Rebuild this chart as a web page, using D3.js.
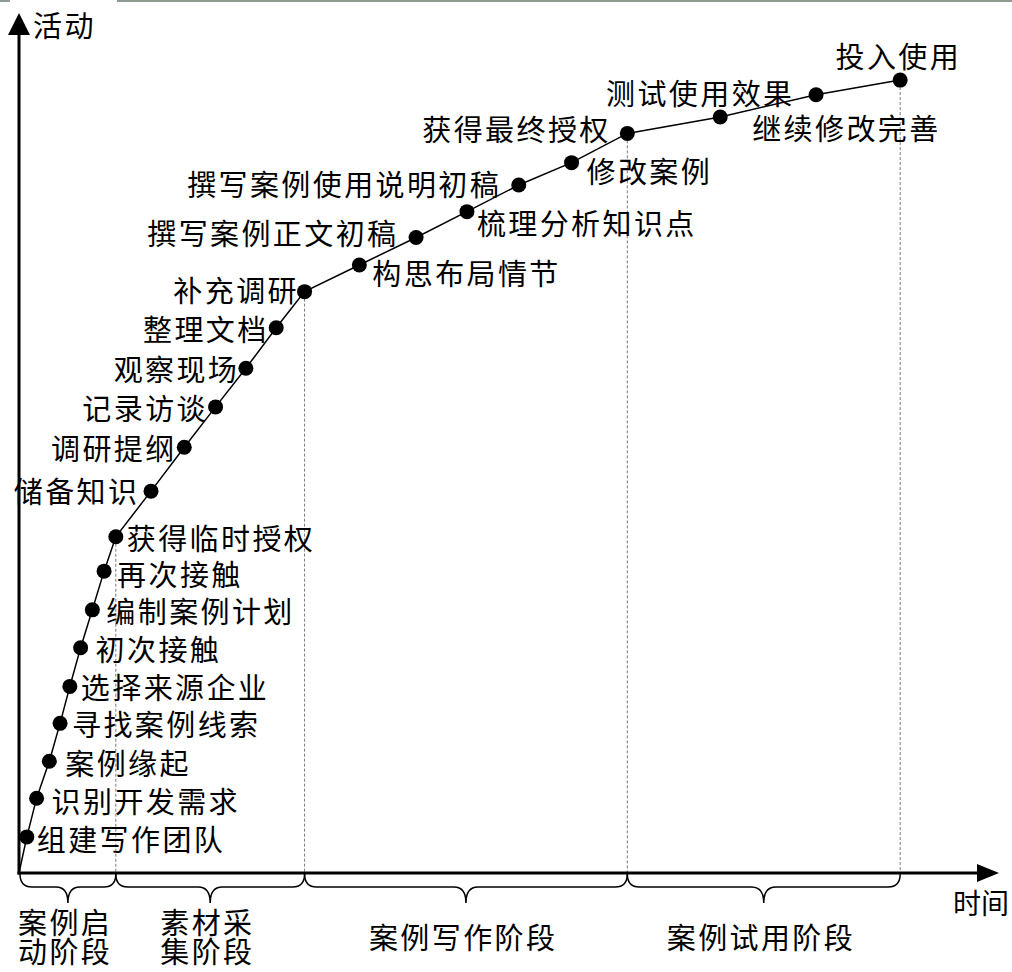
<!DOCTYPE html>
<html lang="zh">
<head>
	<meta charset="UTF-8" />
	<title>案例开发过程</title>
	<script type="text/javascript" src="https://cdn.jsdelivr.net/npm/d3@7/dist/d3.min.js"></script>
	<style>
		body { margin: 0; background: #fff; }
		text { font-family: "Noto Sans CJK SC", sans-serif; fill: #000; }
	</style>
</head>
<body>
	<svg id="vis" width="1012" height="972"></svg>
	<script type="text/javascript">
		// Activités (ordre chronologique)
		var activites = ["组建写作团队", "识别开发需求", "案例缘起", "寻找案例线索", "选择来源企业",
			"初次接触", "编制案例计划", "再次接触", "获得临时授权", "储备知识", "调研提纲",
			"记录访谈", "观察现场", "整理文档", "补充调研", "构思布局情节", "撰写案例正文初稿",
			"梳理分析知识点", "撰写案例使用说明初稿", "修改案例", "获得最终授权", "继续修改完善",
			"测试使用效果", "投入使用"];

		// Temps (0-100) et avancement (0-100)
		var temps = [0.8, 1.8, 3.1, 4.2, 5.2, 6.3, 7.5, 8.7, 9.9, 13.5, 16.9, 20.1, 23.2, 26.3,
			29.2, 34.8, 40.6, 45.8, 51.1, 56.5, 62.2, 71.7, 81.5, 90.1];
		var avancement = [4.2, 8.7, 13.0, 17.4, 21.7, 26.2, 30.6, 35.1, 39.1, 44.4, 49.5, 54.2,
			58.7, 63.4, 67.6, 70.7, 73.9, 76.9, 80.0, 82.6, 86.0, 87.9, 90.5, 92.2];

		// Phases : nom et index de la dernière activité
		var phases = [["案例启", "动阶段"], ["素材采", "集阶段"], ["案例写作阶段"], ["案例试用阶段"]];
		var finPhase = [8, 14, 20, 23];

		// Placement des étiquettes : [ancrage, dx, dy]
		var placement = [
			["start", 10, 1], ["start", 15, 2], ["start", 16, 1], ["start", 12, 0], ["start", 11, 0],
			["start", 15, 0], ["start", 14, 0], ["start", 13, 2], ["start", 11, 0],
			["end", -14, -1], ["end", -10, 0], ["end", -10, 0], ["end", -9, 0], ["end", -10, 0],
			["end", -8, -3], ["start", 13, 7], ["end", -20, -5], ["start", 10, 10], ["end", -20, -2],
			["start", 15, 7], ["end", -19, -5], ["start", 32, 10], ["end", -24, -3], ["middle", -3, -25]
		];

		var fs = 29, ls = 2.4;

		var svg = d3.select("#vis");

		// Liseré en haut
		svg.append("rect").attr("x", 0).attr("y", 0).attr("width", 1012).attr("height", 2).attr("fill", "#8f9b8f");
		svg.append("rect").attr("x", 10).attr("y", 0).attr("width", 107).attr("height", 2).attr("fill", "#fff");

		// Echelles
		var scaleX = d3.scaleLinear().domain([0, 100]).range([19, 997]);
		var scaleY = d3.scaleLinear().domain([0, 100]).range([873, 13]);

		var points = temps.map(function(t, i) {
			return { nom: activites[i], x: scaleX(t), y: scaleY(avancement[i]), p: placement[i] };
		});

		// Lignes pointillées des fins de phase
		svg.append("g").selectAll("line")
			.data(finPhase)
			.join("line")
			.attr("x1", function(d) { return points[d].x; })
			.attr("x2", function(d) { return points[d].x; })
			.attr("y1", function(d) { return points[d].y + 7; })
			.attr("y2", scaleY(0))
			.attr("stroke", "#7a7a7a")
			.attr("stroke-width", 1)
			.attr("stroke-dasharray", "3,2");

		// Axes
		var x0 = scaleX(0), y0 = scaleY(0);
		var gAxes = svg.append("g");
		gAxes.append("line")
			.attr("x1", x0).attr("y1", y0 + 1.5).attr("x2", x0).attr("y2", scaleY(100) + 20)
			.attr("stroke", "#000").attr("stroke-width", 3);
		gAxes.append("line")
			.attr("x1", x0 - 1.5).attr("y1", y0).attr("x2", scaleX(100) - 19).attr("y2", y0)
			.attr("stroke", "#000").attr("stroke-width", 3);
		gAxes.append("path")
			.attr("d", "M" + x0 + "," + scaleY(100) + "L" + (x0 - 11) + "," + (scaleY(100) + 22) +
				"L" + (x0 + 11) + "," + (scaleY(100) + 22) + "Z")
			.attr("fill", "#000");
		gAxes.append("path")
			.attr("d", "M" + (scaleX(100) + 2) + "," + y0 + "L" + (scaleX(100) - 20) + "," + (y0 - 9) +
				"L" + (scaleX(100) - 20) + "," + (y0 + 9) + "Z")
			.attr("fill", "#000");
		gAxes.append("text")
			.attr("x", x0 + 14).attr("y", 24)
			.attr("dominant-baseline", "central")
			.attr("font-size", fs).attr("letter-spacing", ls)
			.text("活动");
		gAxes.append("text")
			.attr("x", 1009).attr("y", 902)
			.attr("text-anchor", "end")
			.attr("dominant-baseline", "central")
			.attr("font-size", 28)
			.text("时间");

		// Courbe
		var ligne = d3.line()
			.x(function(d) { return d.x; })
			.y(function(d) { return d.y; });
		svg.append("path")
			.attr("d", ligne([{ x: x0, y: y0 }].concat(points)))
			.attr("fill", "none")
			.attr("stroke", "#000")
			.attr("stroke-width", 1.5);

		// Points
		svg.append("g").selectAll("circle")
			.data(points)
			.join("circle")
			.attr("cx", function(d) { return d.x; })
			.attr("cy", function(d) { return d.y; })
			.attr("r", 7.5)
			.attr("fill", "#000");

		// Etiquettes
		svg.append("g").selectAll("text")
			.data(points)
			.join("text")
			.attr("x", function(d) {
				var dx = d.p[1];
				if (d.p[0] === "end") dx += ls;
				if (d.p[0] === "middle") dx += ls / 2;
				return d.x + dx;
			})
			.attr("y", function(d) { return d.y + d.p[2]; })
			.attr("text-anchor", function(d) { return d.p[0]; })
			.attr("dominant-baseline", "central")
			.attr("font-size", fs)
			.attr("letter-spacing", ls)
			.text(function(d) { return d.nom; });

		// Accolades des phases
		function accolade(xa, xb, y) {
			var h = 13, t = 16, r = 12, xm = (xa + xb) / 2;
			return "M" + xa + "," + y +
				"Q" + xa + "," + (y + h) + " " + (xa + r) + "," + (y + h) +
				"L" + (xm - r) + "," + (y + h) +
				"Q" + xm + "," + (y + h) + " " + xm + "," + (y + h + t) +
				"Q" + xm + "," + (y + h) + " " + (xm + r) + "," + (y + h) +
				"L" + (xb - r) + "," + (y + h) +
				"Q" + xb + "," + (y + h) + " " + xb + "," + y;
		}
		var bornes = [x0 + 1].concat(finPhase.map(function(i) { return points[i].x; }));

		var gPhases = svg.append("g");
		gPhases.selectAll("path")
			.data(phases)
			.join("path")
			.attr("d", function(d, i) { return accolade(bornes[i], bornes[i + 1], y0 + 1); })
			.attr("fill", "none")
			.attr("stroke", "#000")
			.attr("stroke-width", 1.5);

		gPhases.selectAll("text")
			.data(phases)
			.join("text")
			.attr("text-anchor", "middle")
			.attr("font-size", fs)
			.attr("letter-spacing", ls)
			.each(function(d, i) {
				var xm = (bornes[i] + bornes[i + 1]) / 2 - 4 + ls / 2;
				var yTop = d.length > 1 ? 921 : 936;
				d3.select(this).selectAll("tspan")
					.data(d)
					.join("tspan")
					.attr("x", xm)
					.attr("y", function(l, j) { return yTop + j * 29; })
					.attr("dominant-baseline", "central")
					.text(function(l) { return l; });
			});
	</script>
</body>
</html>
